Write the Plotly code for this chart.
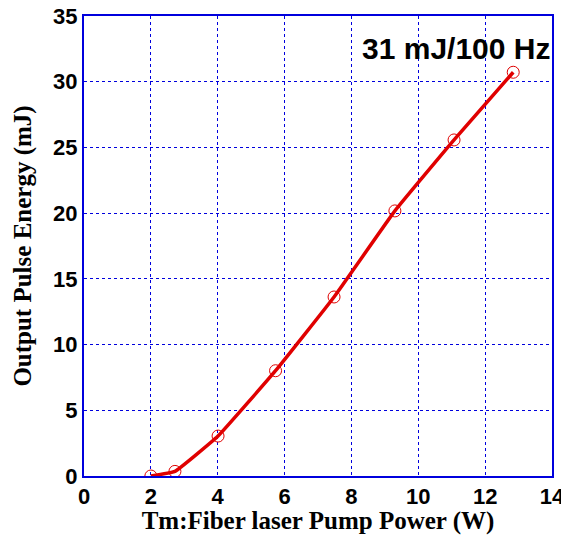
import plotly.graph_objects as go

pump_power = [2.0, 2.72, 4.01, 5.73, 7.48, 9.30, 11.07, 12.84]
pulse_energy = [0.0, 0.35, 3.04, 8.01, 13.62, 20.17, 25.57, 30.72]
x_ticks = [0, 2, 4, 6, 8, 10, 12, 14]
y_ticks = [0, 5, 10, 15, 20, 25, 30, 35]

fig = go.Figure()
fig.add_trace(go.Scatter(
    x=pump_power, y=pulse_energy, mode="lines+markers",
    line=dict(color="#e00000", width=3.5, shape="spline", smoothing=0.3),
    marker=dict(symbol="circle-open", size=12, color="#e00000", line=dict(width=1)),
    showlegend=False,
))

axis_common = dict(
    showline=True, linecolor="#0000dd", linewidth=2, mirror=True,
    showgrid=True, gridcolor="#0000dd", griddash="dot", gridwidth=1.2,
    zeroline=False, ticks="", automargin=False, ticklabeloverflow="allow",
    tickfont=dict(family="Liberation Sans", size=22, color="black", weight="bold"),
)

fig.update_layout(
    width=561, height=527,
    margin=dict(l=76, r=17, t=8, b=59),
    plot_bgcolor="white", paper_bgcolor="white",
    xaxis=dict(range=[0, 14], tickvals=x_ticks, **axis_common,
               title=dict(text="<b>Tm:Fiber laser Pump Power (W)</b>", standoff=5,
                          font=dict(family="Liberation Serif", size=25, color="black"))),
    yaxis=dict(range=[0, 35], tickvals=y_ticks, **axis_common,
               title=dict(text="<b>Output Pulse Energy (mJ)</b>", standoff=14,
                          font=dict(family="Liberation Serif", size=25, color="black"))),
    annotations=[dict(
        text="<b>31 mJ/100 Hz</b>", x=1.0, y=0.93, xref="paper", yref="paper",
        xanchor="right", yanchor="middle", showarrow=False,
        font=dict(family="Liberation Sans", size=30, color="black"),
    )],
)

fig.write_html("out.html")
